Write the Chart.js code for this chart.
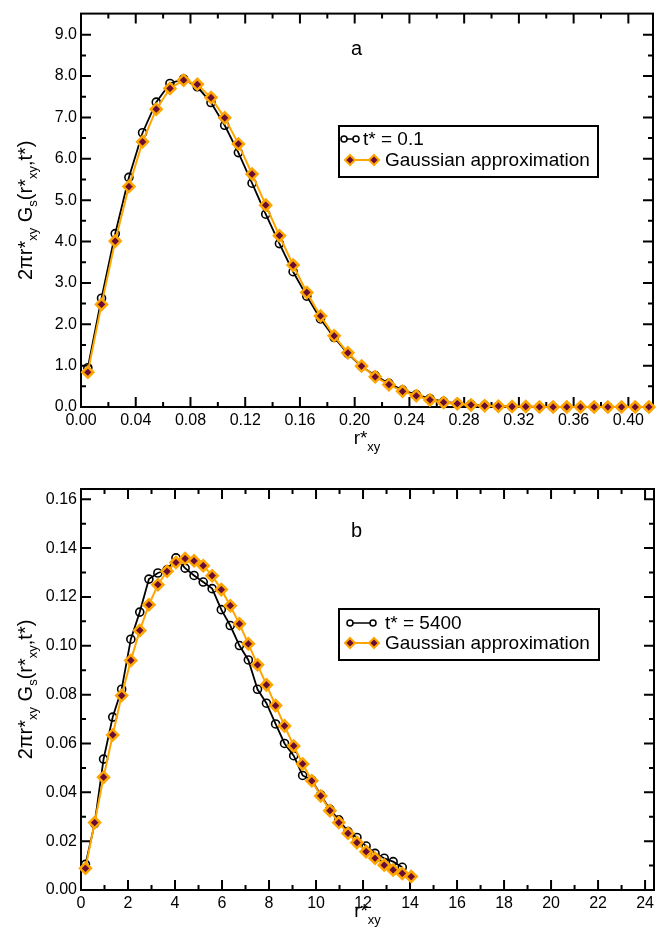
<!DOCTYPE html>
<html lang="en">
<head>
<meta charset="UTF-8">
<title>Gs(r*xy, t*) and Gaussian approximation</title>
<style>
  body { margin: 0; background: #fff; }
  .panel { position: relative; width: 665px; }
  #wrapA { height: 460px; }
  #wrapB { height: 479px; }
</style>
</head>
<body>
<div class="panel" id="wrapA"><canvas id="chartA"></canvas></div>
<div class="panel" id="wrapB"><canvas id="chartB"></canvas></div>

<script src="https://cdn.jsdelivr.net/npm/chart.js"></script>
<script>
// ---- panel a : t* = 0.1 ----
var rA = [0.005, 0.015, 0.025, 0.035, 0.045, 0.055, 0.065, 0.075, 0.085, 0.095,
          0.105, 0.115, 0.125, 0.135, 0.145, 0.155, 0.165, 0.175, 0.185, 0.195,
          0.205, 0.215, 0.225, 0.235, 0.245, 0.255, 0.265, 0.275, 0.285, 0.295,
          0.305, 0.315, 0.325, 0.335, 0.345, 0.355, 0.365, 0.375, 0.385, 0.395,
          0.405, 0.415];
var simA = [0.95, 2.63, 4.19, 5.55, 6.63, 7.37, 7.82, 7.93, 7.74, 7.36,
            6.81, 6.15, 5.41, 4.66, 3.95, 3.27, 2.68, 2.13, 1.68, 1.29,
            0.98, 0.76, 0.57, 0.41, 0.30, 0.20, 0.13, 0.09, 0.06, 0.04,
            0.02, 0.01, 0.01, 0, 0, 0, 0, 0, 0, 0,
            0, 0];
var gaussA = [0.84, 2.48, 4.01, 5.33, 6.41, 7.20, 7.70, 7.90, 7.80, 7.48,
              6.99, 6.36, 5.63, 4.88, 4.14, 3.43, 2.77, 2.20, 1.72, 1.31,
              0.99, 0.73, 0.54, 0.38, 0.27, 0.17, 0.11, 0.08, 0.05, 0.03,
              0.02, 0.01, 0.01, 0, 0, 0, 0, 0, 0, 0,
              0, 0];
var xTicksA = [0, 0.04, 0.08, 0.12, 0.16, 0.20, 0.24, 0.28, 0.32, 0.36, 0.40];
var xMinorA = [0.02, 0.06, 0.10, 0.14, 0.18, 0.22, 0.26, 0.30, 0.34, 0.38];
var yTicksA = [0, 1, 2, 3, 4, 5, 6, 7, 8, 9];
var yMinorA = [0.5, 1.5, 2.5, 3.5, 4.5, 5.5, 6.5, 7.5, 8.5];

// ---- panel b : t* = 5400 ----
var rB = [0.19, 0.58, 0.96, 1.35, 1.73, 2.12, 2.50, 2.89, 3.27, 3.66,
          4.04, 4.43, 4.81, 5.20, 5.58, 5.97, 6.35, 6.74, 7.12, 7.51,
          7.89, 8.28, 8.66, 9.05, 9.43, 9.82, 10.20, 10.59, 10.97, 11.36,
          11.74, 12.13, 12.51, 12.90, 13.28, 13.67, 14.05];
var simB = [0.0105, 0.0272, 0.0536, 0.0708, 0.0822, 0.1027, 0.1138, 0.1273, 0.1298, 0.1311,
            0.1360, 0.1318, 0.1288, 0.1261, 0.1234, 0.1148, 0.1083, 0.1001, 0.0942, 0.0822,
            0.0765, 0.0680, 0.0600, 0.0550, 0.0469, 0.0450, 0.0389, 0.0330, 0.0287, 0.0239,
            0.0215, 0.0180, 0.0150, 0.0130, 0.0116, 0.0093];
var gaussB = [0.0089, 0.0276, 0.0462, 0.0635, 0.0796, 0.0940, 0.1063, 0.1168, 0.1250, 0.1305,
              0.1341, 0.1357, 0.1348, 0.1328, 0.1287, 0.1230, 0.1164, 0.1090, 0.1008, 0.0922,
              0.0840, 0.0755, 0.0672, 0.0590, 0.0516, 0.0447, 0.0385, 0.0325, 0.0276, 0.0232,
              0.0194, 0.0157, 0.0130, 0.0102, 0.0082, 0.0068, 0.0055];
var xTicksB = [0, 2, 4, 6, 8, 10, 12, 14, 16, 18, 20, 22, 24];
var xMinorB = [1, 3, 5, 7, 9, 11, 13, 15, 17, 19, 21, 23];
var yTicksB = [0, 0.02, 0.04, 0.06, 0.08, 0.10, 0.12, 0.14, 0.16];
var yMinorB = [0.01, 0.03, 0.05, 0.07, 0.09, 0.11, 0.13, 0.15];

var FONT = '"Liberation Sans", Arial, Helvetica, sans-serif';
var ORANGE = '#ffa500';
var MAROON = '#6a0d35';

Chart.defaults.font.family = FONT;
Chart.defaults.font.size = 16;
Chart.defaults.color = '#000';

var yTitle = [
    { text: '2\u03c0r*', size: 20 }, { text: 'xy', size: 13, dy: 5 },
    { text: ' G', size: 20 }, { text: 's', size: 13, dy: 5 },
    { text: '(r*', size: 20 }, { text: 'xy', size: 13, dy: 5 },
    { text: ',t*)', size: 20 }
];
var xTitle = [{ text: 'r*', size: 19 }, { text: 'xy', size: 13, dy: 7 }];

function pairs(xs, ys) {
    var out = [];
    for (var i = 0; i < ys.length; i++) out.push({ x: xs[i], y: ys[i] });
    return out;
}

function drawRich(ctx, parts, x, y) {
    var w = 0;
    parts.forEach(function (p) { ctx.font = p.size + 'px ' + FONT; w += ctx.measureText(p.text).width; });
    var cx = x - w / 2;
    parts.forEach(function (p) {
        ctx.font = p.size + 'px ' + FONT;
        ctx.fillText(p.text, cx, y + (p.dy || 0));
        cx += ctx.measureText(p.text).width;
    });
}

function marker(ctx, kind, x, y) {
    ctx.beginPath();
    if (kind === 'circle') {
        ctx.arc(x, y, 3, 0, Math.PI * 2);
        ctx.fillStyle = '#fff';
        ctx.fill();
        ctx.strokeStyle = '#000';
        ctx.lineWidth = 1.5;
        ctx.stroke();
    } else {
        var r = 5;
        ctx.moveTo(x, y - r); ctx.lineTo(x + r, y); ctx.lineTo(x, y + r); ctx.lineTo(x - r, y); ctx.closePath();
        ctx.fillStyle = MAROON;
        ctx.fill();
        ctx.strokeStyle = ORANGE;
        ctx.lineWidth = 2;
        ctx.stroke();
    }
}

function framePlugin(o) {
    return {
        id: 'frame' + o.id,
        beforeDatasetsDraw: function (chart) {
            var ctx = chart.ctx, a = chart.chartArea, xs = chart.scales.x, ys = chart.scales.y;
            ctx.save();
            ctx.strokeStyle = '#000';
            ctx.lineWidth = 2;
            ctx.strokeRect(a.left, a.top, a.right - a.left, a.bottom - a.top);
            ctx.beginPath();
            function tx(vals, len) {
                vals.forEach(function (v) {
                    var p = xs.getPixelForValue(v);
                    ctx.moveTo(p, a.bottom); ctx.lineTo(p, a.bottom - len);
                    ctx.moveTo(p, a.top); ctx.lineTo(p, a.top + len);
                });
            }
            function ty(vals, len) {
                vals.forEach(function (v) {
                    var p = ys.getPixelForValue(v);
                    ctx.moveTo(a.left, p); ctx.lineTo(a.left + len, p);
                    ctx.moveTo(a.right, p); ctx.lineTo(a.right - len, p);
                });
            }
            tx(o.xTicks, 10); tx(o.xMinor, 5);
            ty(o.yTicks, 10); ty(o.yMinor, 5);
            ctx.stroke();
            ctx.restore();
        },
        afterDraw: function (chart) {
            var ctx = chart.ctx, a = chart.chartArea;
            ctx.save();
            ctx.fillStyle = '#000';
            ctx.textBaseline = 'alphabetic';

            // axis titles
            drawRich(ctx, xTitle, (a.left + a.right) / 2, o.xTitleY);
            ctx.save();
            ctx.translate(32, (a.top + a.bottom) / 2);
            ctx.rotate(-Math.PI / 2);
            drawRich(ctx, yTitle, 0, 0);
            ctx.restore();

            // panel letter
            ctx.font = '20px ' + FONT;
            ctx.fillText(o.letter, 351, o.letterY);

            // legend
            var b = o.legendBox;
            ctx.lineWidth = 2;
            ctx.strokeStyle = '#000';
            ctx.strokeRect(b.x, b.y, b.w, b.h);
            o.legendRows.forEach(function (row) {
                ctx.beginPath();
                ctx.moveTo(row.x1, row.y); ctx.lineTo(row.x2, row.y);
                ctx.strokeStyle = row.kind === 'circle' ? '#000' : ORANGE;
                ctx.lineWidth = row.kind === 'circle' ? 1.5 : 2;
                ctx.stroke();
                marker(ctx, row.kind, row.x1, row.y);
                marker(ctx, row.kind, row.x2, row.y);
                ctx.fillStyle = '#000';
                ctx.font = '19px ' + FONT;
                ctx.textBaseline = 'middle';
                ctx.fillText(row.text, row.tx, row.y + 1);
            });
            ctx.restore();
        }
    };
}

function makeChart(o) {
    return new Chart(document.getElementById(o.id), {
        type: 'scatter',
        data: {
            datasets: [{
                label: 'Gaussian approximation',
                data: o.gauss,
                showLine: true,
                borderColor: ORANGE,
                borderWidth: 2,
                pointStyle: 'rectRot',
                pointRadius: 5.5,
                pointBackgroundColor: MAROON,
                pointBorderColor: ORANGE,
                pointBorderWidth: 2.5,
                order: 0,
                clip: false
            }, {
                label: o.simLabel,
                data: o.sim,
                showLine: true,
                borderColor: '#000',
                borderWidth: 1.8,
                pointStyle: 'circle',
                pointRadius: 4,
                pointBackgroundColor: 'rgba(255,255,255,0)',
                pointBorderColor: '#000',
                pointBorderWidth: 1.6,
                order: 1,
                clip: false
            }]
        },
        options: {
            responsive: true,
            maintainAspectRatio: false,
            animation: false,
            events: [],
            layout: { padding: o.padding },
            plugins: { legend: { display: false }, tooltip: { enabled: false } },
            scales: {
                x: {
                    type: 'linear', min: 0, max: o.xMax,
                    grid: { display: false, drawTicks: false },
                    border: { display: false },
                    afterFit: function (s) { s.height = o.xAxisH; },
                    afterBuildTicks: function (s) { s.ticks = o.xTicks.map(function (v) { return { value: v }; }); },
                    ticks: {
                        padding: 4, maxRotation: 0, autoSkip: false,
                        callback: function (v) { return v.toFixed(o.xDec); }
                    }
                },
                y: {
                    type: 'linear', min: 0, max: o.yMax,
                    grid: { display: false, drawTicks: false },
                    border: { display: false },
                    afterFit: function (s) { s.width = 81; },
                    afterBuildTicks: function (s) { s.ticks = o.yTicks.map(function (v) { return { value: v }; }); },
                    ticks: {
                        padding: 4, autoSkip: false,
                        callback: function (v) { return v.toFixed(o.yDec); }
                    }
                }
            }
        },
        plugins: [framePlugin(o)]
    });
}

makeChart({
    id: 'chartA',
    sim: pairs(rA, simA), gauss: pairs(rA, gaussA), simLabel: 't* = 0.1',
    xMax: 0.418, yMax: 9.51, xDec: 2, yDec: 1,
    xTicks: xTicksA, xMinor: xMinorA, yTicks: yTicksA, yMinor: yMinorA,
    padding: { top: 5, right: 12, left: 0, bottom: 0 }, xAxisH: 53,
    xTitleY: 444, letter: 'a', letterY: 55,
    legendBox: { x: 339, y: 126, w: 259, h: 51 },
    legendRows: [
        { kind: 'circle', x1: 344, x2: 356, tx: 363, y: 139, text: 't* = 0.1' },
        { kind: 'diamond', x1: 350, x2: 374, tx: 385, y: 160, text: 'Gaussian approximation' }
    ]
});

makeChart({
    id: 'chartB',
    sim: pairs(rB, simB), gauss: pairs(rB, gaussB), simLabel: 't* = 5400',
    xMax: 24.38, yMax: 0.1642, xDec: 0, yDec: 2,
    xTicks: xTicksB, xMinor: xMinorB, yTicks: yTicksB, yMinor: yMinorB,
    padding: { top: 29, right: 11, left: 0, bottom: 0 }, xAxisH: 49,
    xTitleY: 457, letter: 'b', letterY: 77,
    legendBox: { x: 339, y: 149, w: 260, h: 51 },
    legendRows: [
        { kind: 'circle', x1: 350, x2: 373, tx: 385, y: 163, text: 't* = 5400' },
        { kind: 'diamond', x1: 350, x2: 374, tx: 385, y: 183, text: 'Gaussian approximation' }
    ]
});
</script>
</body>
</html>
